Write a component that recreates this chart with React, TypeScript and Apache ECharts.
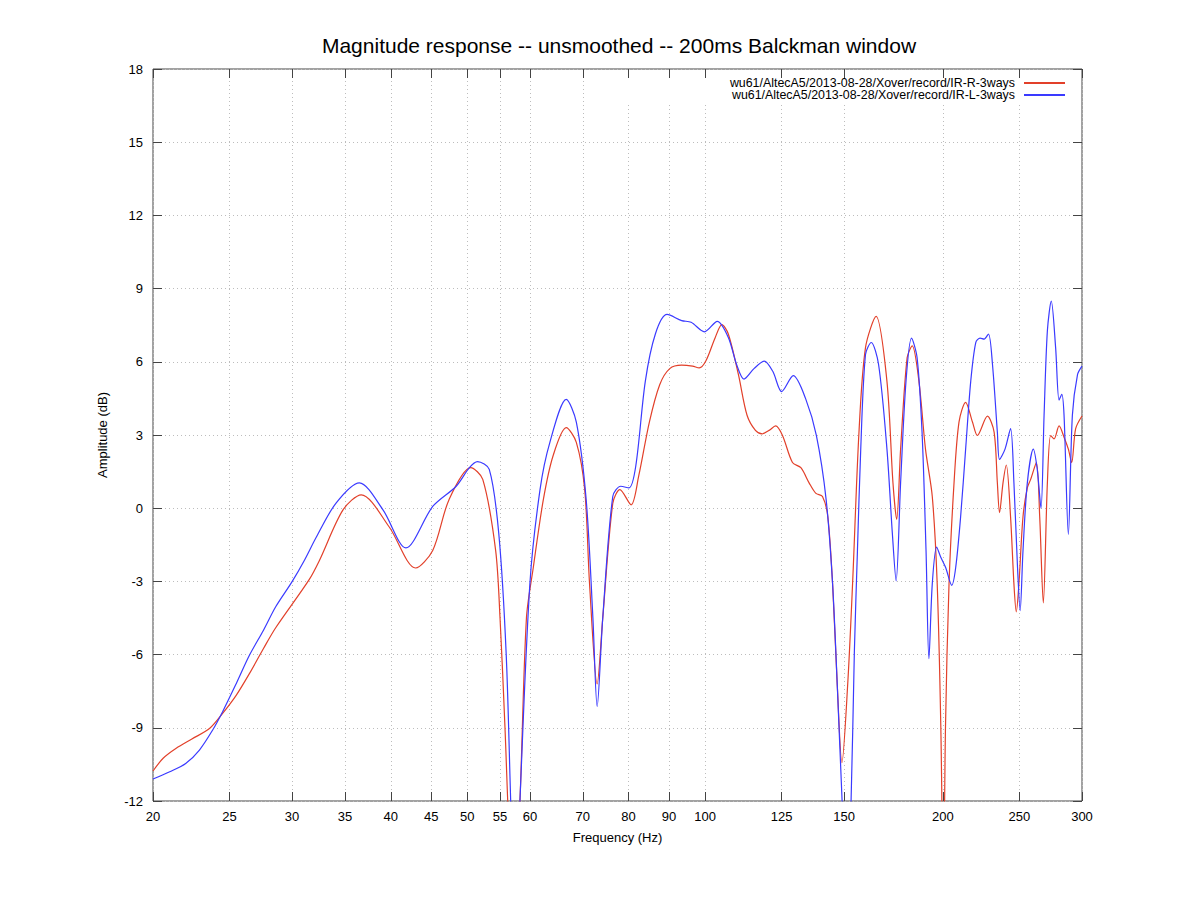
import React, { useEffect, useRef } from "react";
import * as echarts from "echarts";

// ---- data ----
const TITLE = "Magnitude response -- unsmoothed -- 200ms Balckman window";
const X_NAME = "Frequency (Hz)";
const Y_NAME = "Amplitude (dB)";
const NAME_R = "wu61/AltecA5/2013-08-28/Xover/record/IR-R-3ways";
const NAME_L = "wu61/AltecA5/2013-08-28/Xover/record/IR-L-3ways";

const X_TICKS = [20, 25, 30, 35, 40, 45, 50, 55, 60, 70, 80, 90, 100, 125, 150, 200, 250, 300];
const X_MIN = 20;
const X_MAX = 300;
const Y_MIN = -12;
const Y_MAX = 18;
const Y_STEP = 3;

const freqR = [
  20, 20.6, 21.4, 22.4, 23.6, 24.5, 25.5, 26.5, 27.6, 28.6, 31.5, 32.5, 34.8, 36.7, 39.8, 43.0, 45.2, 47.4, 50.5, 52.3, 54.3,
  55.0, 55.8, 56.5, 57.2, 58.2, 59.4, 60.6, 62.4, 64.2, 66.7, 68.7, 70.4, 71.4, 73.0, 74.2, 76.4,
  78.0, 80.6, 82.4, 85.0, 87.6, 90.2, 93.4, 96.4, 98.3, 100.2, 103.0, 105.0, 107.0, 110.2, 113.0,
  115.8, 118.1, 120.5, 122.8, 125.3, 129.0, 132.2, 135.4, 138.0, 140.8, 143.0, 145.0, 147.0, 149.0,
  151.5, 153.7, 156.6, 159.6, 164.6, 169.9, 172.9, 174.8, 176.8, 180.2, 182.9, 186.5, 190.1, 193.9,
  196.7, 198.8, 200.3, 201.5, 203.6, 206.6, 209.6, 213.7, 218.0, 221.1, 227.7, 232.2, 234.4, 235.9,
  238.3, 240.6, 243.6, 246.0, 247.7, 249.6, 252.6, 255.8, 258.3, 262.6, 265.2, 268.0, 271.2, 273.8,
  276.5, 280.6, 284.7, 288.3, 291.1, 294.5, 300,
];
const ampR = [
  -10.77, -10.25, -9.84, -9.46, -9.02, -8.41, -7.66, -6.77, -5.75, -4.9, -2.95, -2.13, -0.07, 0.55, -0.76, -2.45, -1.73, 0.35, 1.66, 1.18, -1.73,
  -4.5, -9.0, -13.5, -16.0, -12.5, -4.5, -2.43, 0.35, 2.15, 3.3, 2.7, 0.76, -3.1, -7.2, -4.5, 0.2,
  0.76, 0.14, 1.32, 3.53, 5.06, 5.72, 5.86, 5.82, 5.75, 6.03, 7.0, 7.52, 7.14, 5.47, 3.81,
  3.19, 3.05, 3.19, 3.37, 2.98, 1.87, 1.66, 1.04, 0.62, 0.48, -0.35, -3.1, -7.27, -10.43,
  -7.27, -3.1, 3.12, 6.58, 7.86, 5.2, 1.04, -0.46, 2.42, 6.17, 6.65, 5.2, 2.42, 0.48,
  -3.1, -9.0, -16.0, -9.0, -3.1, 1.04, 3.53, 4.34, 3.53, 2.98, 3.77, 3.12, 1.04, -0.18,
  1.04, 1.77, -0.35, -3.1, -4.25, -3.1, -0.35, 0.83, 1.18, 1.87, -0.35, -3.88, 1.04, 2.98,
  2.84, 3.37, 2.91, 2.42, 1.87, 3.26, 3.78,
];

const freqL = [
  20, 21.0, 22.0, 22.9, 23.8, 24.5, 25.5, 26.5, 27.6, 28.6, 30.0, 31.1, 32.2, 34.1, 36.5, 39.1, 41.8, 45.2, 48.4, 50.3, 51.5, 53.3,
  54.8, 56.0, 56.8, 57.5, 58.2, 60.0, 61.8, 63.6, 66.7, 68.7, 70.7, 72.1, 73.0, 74.2, 76.4, 78.2,
  80.1, 81.7, 84.0, 86.5, 89.5, 93.4, 96.0, 99.8, 103.6, 107.0, 109.6, 112.0, 115.3, 118.8, 121.8,
  125.0, 129.3, 134.0, 138.3, 142.3, 145.0, 147.0, 149.3, 151.0, 152.9, 154.5, 155.9, 157.4, 159.6,
  162.3, 165.8, 169.9, 172.6, 174.5, 176.8, 179.6, 182.5, 185.5, 188.2, 190.4, 192.0, 193.9, 196.4,
  198.7, 201.6, 205.2, 207.6, 210.6, 213.7, 216.9, 220.1, 222.9, 225.5, 228.4, 231.1, 234.4, 235.9,
  239.7, 243.6, 246.0, 248.6, 250.5, 252.6, 255.8, 260.3, 263.3, 266.2, 268.6, 271.2, 274.3, 277.8,
  280.6, 282.8, 284.7, 288.3, 291.7, 296.1, 300,
];
const ampL = [
  -11.1, -10.8, -10.46, -9.91, -9.09, -8.34, -7.18, -6.02, -5.0, -4.04, -3.01, -2.13, -1.18, 0.21, 1.04, -0.07, -1.63, 0.07, 0.9, 1.66, 1.91, 1.59,
  -1.04, -6.0, -12.5, -17.0, -12.5, -3.1, 0.76, 2.7, 4.46, 3.53, 0.35, -4.5, -8.13, -4.5, 0.48, 0.9,
  0.83, 1.73, 5.2, 7.14, 7.94, 7.69, 7.62, 7.23, 7.66, 7.0, 5.89, 5.29, 5.72, 6.03, 5.61,
  4.78, 5.43, 4.5, 2.98, 0.35, -3.1, -7.27, -12.5, -16.0, -12.5, -5.89, -1.73, 2.42, 6.3,
  6.79, 5.89, 2.42, -1.04, -2.98, 1.04, 5.2, 6.97, 6.17, 3.12, -1.73, -6.17, -3.1, -1.59,
  -2.0, -2.43, -3.16, -2.43, -0.35, 2.42, 5.2, 6.79, 6.97, 6.93, 7.14, 5.89, 3.12, 2.0,
  2.42, 3.26, 1.04, -2.43, -4.2, -1.73, 1.04, 2.42, 1.59, 0.0, 3.81, 7.27, 8.49, 6.58,
  4.43, 4.67, 3.81, -1.07, 3.81, 5.47, 5.82,
];

const FONT = "'Liberation Sans', Arial, Helvetica, sans-serif";

export default function App() {
  const ref = useRef<HTMLDivElement>(null);

  useEffect(() => {
    if (!ref.current) return;
    const chart = echarts.init(ref.current, undefined, { renderer: "svg" });

    const lg = (v: number) => Math.log10(v);
    const tickLogs = X_TICKS.map(lg);
    const toPairs = (fs: number[], as: number[]) => fs.map((f, i) => [lg(f), as[i]]);

    const axisColor = "#444";
    const gridLine = { show: true, lineStyle: { type: [1, 3] as any, color: "#bdbdbd", width: 1 } };

    const option: any = {
      animation: false,
      backgroundColor: "#fff",
      textStyle: { fontFamily: FONT },
      title: {
        text: TITLE,
        left: 619,
        top: 35,
        padding: 0,
        textAlign: "center",
        textStyle: { fontFamily: FONT, fontSize: 21, fontWeight: "normal", color: "#000" },
      },
      legend: {
        orient: "vertical",
        right: 133,
        top: 76,
        align: "right",
        padding: 0,
        itemGap: -2,
        itemWidth: 41,
        itemHeight: 2,
        icon: "rect",
        data: [NAME_R, NAME_L],
        textStyle: { fontFamily: FONT, fontSize: 12.4, color: "#000", lineHeight: 14, padding: [0, 4, 0, 0] },
      },
      grid: {
        left: 153,
        right: 116,
        top: 69,
        bottom: 97,
        show: true,
        borderColor: axisColor,
        borderWidth: 1,
        backgroundColor: "#fff",
      },
      graphic: [
        {
          type: "rect",
          z: 1,
          shape: { x: 600, y: 79, width: 481, height: 25 },
          style: { fill: "#fff" },
          silent: true,
        },
      ],
      xAxis: [
        {
          type: "value",
          position: "bottom",
          min: lg(X_MIN),
          max: lg(X_MAX),
          axisLine: { show: false, onZero: false },
          axisTick: { show: true, inside: true, length: 9, customValues: tickLogs, lineStyle: { color: axisColor } },
          axisLabel: {
            customValues: tickLogs,
            formatter: (v: number) => String(Math.round(Math.pow(10, v))),
            margin: 9,
            fontSize: 13,
            color: "#000",
            fontFamily: FONT,
          },
          splitLine: gridLine,
          name: X_NAME,
          nameLocation: "middle",
          nameGap: 30,
          nameTextStyle: { fontSize: 13, color: "#000", fontFamily: FONT },
        },
        {
          type: "value",
          position: "top",
          min: lg(X_MIN),
          max: lg(X_MAX),
          z: 3,
          axisLine: { show: false, onZero: false },
          axisTick: { show: true, inside: true, length: 9, customValues: tickLogs, lineStyle: { color: axisColor } },
          axisLabel: { show: false, customValues: tickLogs },
          splitLine: { show: false },
        },
      ],
      yAxis: [
        {
          type: "value",
          position: "left",
          min: Y_MIN,
          max: Y_MAX,
          interval: Y_STEP,
          axisLine: { show: false, onZero: false },
          axisTick: { show: true, inside: true, length: 9, lineStyle: { color: axisColor } },
          axisLabel: { margin: 10, fontSize: 13, color: "#000", fontFamily: FONT },
          splitLine: gridLine,
          name: Y_NAME,
          nameLocation: "middle",
          nameGap: 44,
          nameTextStyle: { fontSize: 13, color: "#000", fontFamily: FONT },
        },
        {
          type: "value",
          position: "right",
          min: Y_MIN,
          max: Y_MAX,
          interval: Y_STEP,
          axisLine: { show: false, onZero: false },
          axisTick: { show: true, inside: true, length: 9, lineStyle: { color: axisColor } },
          axisLabel: { show: false },
          splitLine: { show: false },
        },
      ],
      series: [
        {
          name: NAME_R,
          type: "line",
          data: toPairs(freqR, ampR),
          showSymbol: false,
          symbol: "none",
          smooth: 0.3,
          clip: true,
          color: "#e2402a",
          lineStyle: { width: 1.2, color: "#e2402a" },
          z: 2,
        },
        {
          name: NAME_L,
          type: "line",
          data: toPairs(freqL, ampL),
          showSymbol: false,
          symbol: "none",
          smooth: 0.3,
          clip: true,
          color: "#3a3aff",
          lineStyle: { width: 1.2, color: "#3a3aff" },
          z: 2,
        },
      ],
    };

    chart.setOption(option);
    return () => chart.dispose();
  }, []);

  return (
    <div
      ref={ref}
      style={{ position: "fixed", left: 0, top: 0, width: 1198, height: 898, background: "#fff" }}
    />
  );
}
